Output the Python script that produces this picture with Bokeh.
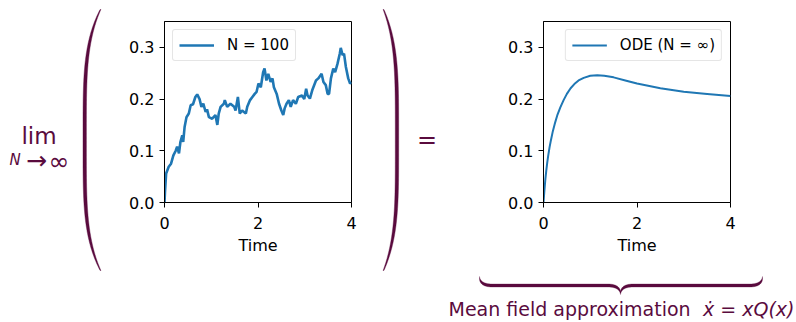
import numpy as np
from bokeh.plotting import figure
from bokeh.layouts import row, column
from bokeh.models import (Range1d, FixedTicker, PrintfTickFormatter, Legend,
                          Label, PolyAnnotation)
from bokeh.embed import file_html
from bokeh.resources import INLINE

# ---------------- data ----------------
sim_t = [0, 0.01, 0.035, 0.09, 0.14, 0.19, 0.24, 0.27, 0.31, 0.34, 0.38, 0.40, 0.43, 0.47,
         0.52, 0.56, 0.61, 0.66, 0.70, 0.75, 0.79, 0.83, 0.88, 0.91, 0.95, 1.02, 1.09, 1.13,
         1.16, 1.20, 1.27, 1.29, 1.34, 1.41, 1.49, 1.52, 1.57, 1.61, 1.66, 1.74, 1.77, 1.83,
         1.88, 1.93, 1.97, 2.01, 2.06, 2.11, 2.14, 2.18, 2.22, 2.27, 2.31, 2.34, 2.40, 2.45,
         2.50, 2.54, 2.57, 2.61, 2.66, 2.70, 2.75, 2.81, 2.86, 2.94, 2.99, 3.03, 3.06, 3.11,
         3.16, 3.24, 3.29, 3.36, 3.40, 3.45, 3.49, 3.52, 3.56, 3.61, 3.65, 3.70, 3.75, 3.77,
         3.81, 3.84, 3.88, 3.93, 3.97, 4.0]
sim_x = [0, 0.02, 0.056, 0.069, 0.075, 0.091, 0.10, 0.108, 0.095, 0.117, 0.13, 0.117, 0.146, 0.165,
         0.172, 0.188, 0.19, 0.204, 0.209, 0.20, 0.185, 0.191, 0.175, 0.18, 0.165, 0.162, 0.169, 0.15,
         0.172, 0.185, 0.191, 0.198, 0.185, 0.191, 0.185, 0.178, 0.204, 0.172, 0.178, 0.172, 0.185, 0.198,
         0.204, 0.21, 0.214, 0.23, 0.223, 0.252, 0.259, 0.236, 0.249, 0.233, 0.24, 0.223, 0.21, 0.191,
         0.178, 0.169, 0.182, 0.191, 0.198, 0.185, 0.198, 0.191, 0.204, 0.207, 0.20, 0.22, 0.207, 0.201,
         0.217, 0.236, 0.24, 0.249, 0.233, 0.227, 0.21, 0.21, 0.24, 0.259, 0.252, 0.268, 0.288, 0.299,
         0.285, 0.288, 0.262, 0.24, 0.23, 0.233]

ode_t = [0, 0.02, 0.04, 0.06, 0.08, 0.10, 0.13, 0.16, 0.20, 0.25, 0.30, 0.36, 0.43, 0.50,
         0.58, 0.66, 0.75, 0.86, 1.0, 1.15, 1.3, 1.5, 1.75, 2.0, 2.5, 3.0, 3.5, 4.0]
ode_x = [0, 0.024, 0.045, 0.062, 0.077, 0.090, 0.107, 0.121, 0.138, 0.155, 0.170, 0.184, 0.198, 0.210,
         0.221, 0.229, 0.236, 0.241, 0.245, 0.246, 0.245, 0.242, 0.236, 0.230, 0.221, 0.214, 0.210, 0.206]

x_ticks = [0, 2, 4]
y_ticks = [0.0, 0.1, 0.2, 0.3]
legend_sim = "N = 100"
legend_ode = "ODE (N = ∞)"
x_label = "Time"

MAROON = "#5a0b3e"
BLUE = "#1f77b4"
FONT = "DejaVu Sans"
TICK_FS = "16px"


def make_plot(left_border, right_border):
    p = figure(frame_width=187, frame_height=181, min_border_left=left_border,
               min_border_right=right_border, min_border_top=21, min_border_bottom=72,
               x_range=Range1d(0, 4), y_range=Range1d(0, 0.35),
               toolbar_location=None, output_backend="svg", title_location=None)
    p.grid.visible = False
    p.outline_line_color = "black"
    p.outline_line_width = 1
    p.xaxis.ticker = FixedTicker(ticks=x_ticks)
    p.yaxis.ticker = FixedTicker(ticks=y_ticks)
    p.yaxis.formatter = PrintfTickFormatter(format="%.1f")
    for ax in (p.xaxis, p.yaxis):
        ax.axis_line_color = "black"
        ax.major_tick_line_color = "black"
        ax.minor_tick_line_color = None
        ax.major_tick_out = 5
        ax.major_tick_in = 0
        ax.major_label_text_font = FONT
        ax.major_label_text_font_size = TICK_FS
        ax.major_label_text_color = "black"
    p.yaxis.major_label_standoff = 5
    p.xaxis.major_label_standoff = 9
    p.xaxis.axis_label = x_label
    p.xaxis.axis_label_text_font = FONT
    p.xaxis.axis_label_text_font_size = TICK_FS
    p.xaxis.axis_label_text_font_style = "normal"
    p.xaxis.axis_label_text_color = "black"
    p.xaxis.axis_label_standoff = 4
    return p


def style_legend(p, loc):
    lg = p.legend[0]
    lg.location = loc
    lg.margin = 8
    lg.padding = 6
    lg.spacing = 0
    lg.glyph_width = 35
    lg.glyph_height = 18
    lg.label_height = 18
    lg.label_standoff = 13
    lg.label_text_font = FONT
    lg.label_text_font_size = "15px"
    lg.label_text_color = "black"
    lg.border_line_color = "#cccccc"
    lg.border_line_width = 1
    lg.background_fill_alpha = 0.8
    if "border_radius" in Legend.properties():
        lg.border_radius = 3


p1 = make_plot(54, 14)
p1.line(sim_t, sim_x, line_color=BLUE, line_width=2.6, legend_label=legend_sim)
style_legend(p1, "top_left")

p2 = make_plot(73, 66)
p2.line(ode_t, ode_x, line_color=BLUE, line_width=2, legend_label=legend_ode)
style_legend(p2, "top_right")

ROW_H = 274


def deco(x0, x1, y0, y1):
    """Decoration panel whose data coordinates equal page pixels."""
    f = figure(frame_width=x1 - x0, frame_height=y1 - y0, min_border_left=0, min_border_right=0,
               min_border_top=0, min_border_bottom=0,
               x_range=Range1d(x0, x1), y_range=Range1d(y1, y0),
               toolbar_location=None, output_backend="svg", title_location=None,
               x_axis_location=None, y_axis_location=None)
    f.outline_line_color = None
    f.grid.visible = False
    return f


def add_label(f, x, y, text, size, align="left", style="normal"):
    f.add_layout(Label(x=x, y=y, text=text, text_font=FONT, text_font_size=size,
                       text_color=MAROON, text_align=align, text_baseline="alphabetic",
                       text_font_style=style))


def paren(f, x_mid, x_end, y0=9.0, y1=270.0):
    ys = np.linspace(y0, y1, 200)
    ym = (y0 + y1) / 2
    half = (y1 - y0) / 2
    s = np.abs((ys - ym) / half)
    fs = s ** 4
    xc = x_mid + (x_end - x_mid) * fs
    w = 3.4 - 2.6 * fs
    xs = np.concatenate([xc - w / 2, (xc + w / 2)[::-1]])
    yy = np.concatenate([ys, ys[::-1]])
    f.patch(list(xs), list(yy), fill_color=MAROON, line_color=MAROON, line_width=0.4)


# left decoration (page x 0..110)
A = deco(0, 110, 0, ROW_H)
paren(A, 84.2, 100.0)
add_label(A, 38.5, 135, "lim", "23px", align="center")
add_label(A, 9, 159, "N", "15px", style="italic")
add_label(A, 36, 159.5, "→", "25px", align="center")
add_label(A, 58.5, 161, "∞", "25px", align="center")

# middle decoration (page x 365..470)
B = deco(365, 470, 0, ROW_H)
paren(B, 396.5, 383.0)
add_label(B, 426.5, 139.5, "=", "24px", align="center")

# bottom: brace and caption (page y 274..322)
C = deco(0, 796, ROW_H, 322)


def qbez(p0, c, p1, n=20):
    t = np.linspace(0, 1, n)
    x = (1 - t) ** 2 * p0[0] + 2 * (1 - t) * t * c[0] + t ** 2 * p1[0]
    y = (1 - t) ** 2 * p0[1] + 2 * (1 - t) * t * c[1] + t ** 2 * p1[1]
    return x, y


yb = 285.0
parts = [qbez((479, 277.5), (480, yb), (492, yb)),
         (np.array([492, 607.0]), np.array([yb, yb])),
         qbez((607, yb), (619, yb), (620, 292.5)),
         qbez((620, 292.5), (621, yb), (633, yb)),
         (np.array([633, 749.0]), np.array([yb, yb])),
         qbez((749, yb), (761, yb), (762, 277.5))]
bx = np.concatenate([p[0] for p in parts])
by = np.concatenate([p[1] for p in parts])
C.patch(list(np.concatenate([bx, bx[::-1]])),
        list(np.concatenate([by - 1.5, (by + 1.5)[::-1]])),
        fill_color=MAROON, line_color=MAROON, line_width=0.3)
add_label(C, 448, 308, "Mean field approximation", "19px")
add_label(C, 794, 308, "ẋ = xQ(x)", "19px", align="right", style="italic")

layout = column(row(A, column(p1), B, column(p2)), C)
open("out.html", "w").write(file_html(layout, INLINE))
